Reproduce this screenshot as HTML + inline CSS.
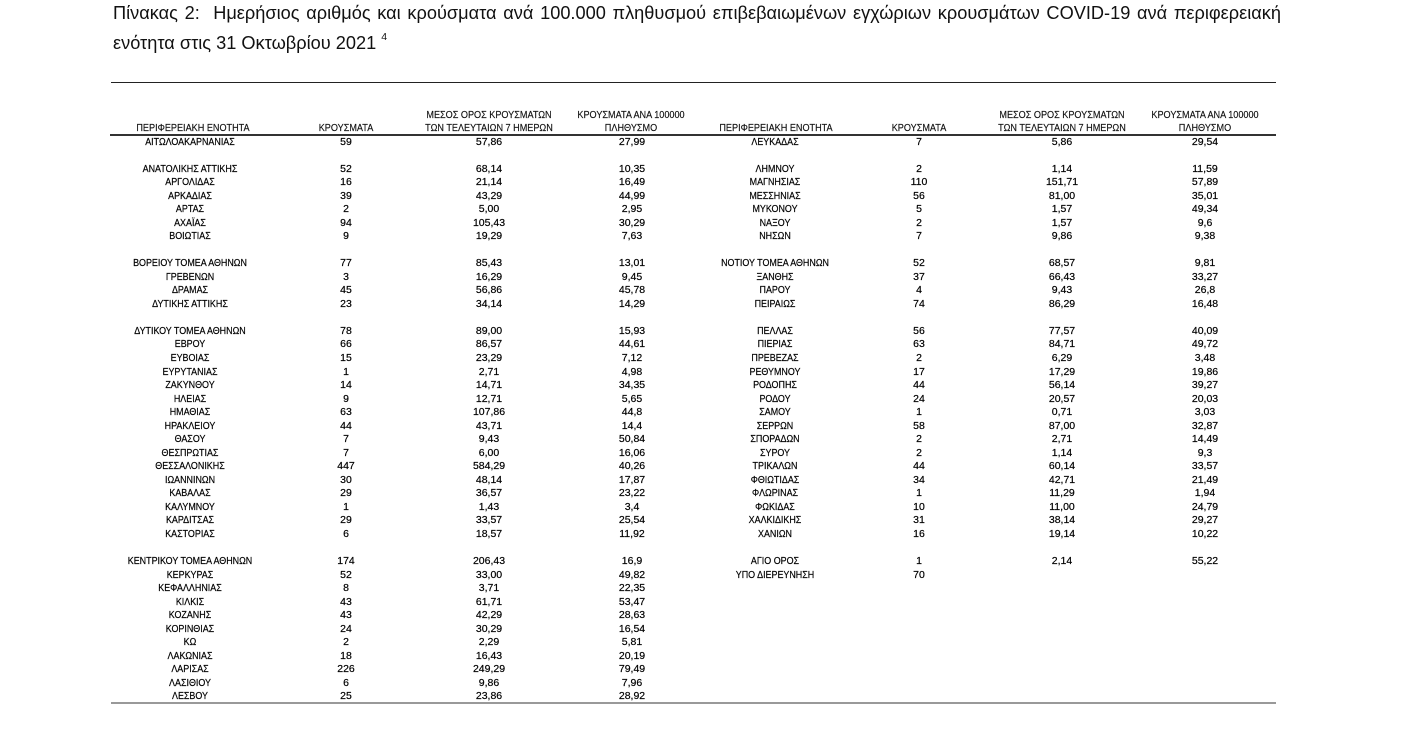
<!DOCTYPE html>
<html><head><meta charset="utf-8"><style>
html,body{margin:0;padding:0;background:#fff;}
body{width:1425px;height:750px;position:relative;overflow:hidden;font-family:"Liberation Sans","DejaVu Sans",sans-serif;color:#111;}
.title{position:absolute;left:113px;top:0;width:1168px;font-size:18.2px;line-height:26px;color:#111;}
.t1{text-align:justify;text-align-last:justify;}
.hr{position:absolute;}
.hd{position:absolute;width:220px;text-align:center;font-size:10px;line-height:13.5px;transform:scaleX(0.91);color:#111;-webkit-text-stroke:0.15px #111;}
#rows{position:absolute;left:0;top:135.5px;width:1425px;}
.r{position:relative;height:13.54px;}
.c{position:absolute;top:0;width:200px;text-align:center;font-size:10.5px;line-height:13.54px;color:#000;white-space:nowrap;-webkit-text-stroke:0.2px #000;}
.n{transform:scaleX(0.85);}
.a{left:90px}.b{left:246px}.d{left:389px}.e{left:532px}
.f{left:675px}.g{left:819px}.h{left:962px}.i{left:1105px}
</style></head><body>
<div class="title"><div class="t1">Πίνακας 2:&nbsp; Ημερήσιος αριθμός και κρούσματα ανά 100.000 πληθυσμού επιβεβαιωμένων εγχώριων κρουσμάτων COVID-19 ανά περιφερειακή</div><div>ενότητα στις 31 Οκτωβρίου 2021 <sup style="font-size:10.5px;position:relative;top:-2px">4</sup></div></div>
<div class="hr" style="left:111px;top:81.5px;width:1165px;height:1.5px;background:#222"></div>
<div class="hr" style="left:110px;top:134px;width:1166px;height:2px;background:#333"></div>
<div class="hr" style="left:111px;top:702px;width:1165px;height:2px;background:#999"></div>

<div class="hd" style="left:83px;top:122px">ΠΕΡΙΦΕΡΕΙΑΚΗ ΕΝΟΤΗΤΑ</div>
<div class="hd" style="left:236px;top:122px">ΚΡΟΥΣΜΑΤΑ</div>
<div class="hd" style="left:379px;top:108.5px">ΜΕΣΟΣ ΟΡΟΣ ΚΡΟΥΣΜΑΤΩΝ</div>
<div class="hd" style="left:379px;top:122px">ΤΩΝ ΤΕΛΕΥΤΑΙΩΝ 7 ΗΜΕΡΩΝ</div>
<div class="hd" style="left:521px;top:108.5px">ΚΡΟΥΣΜΑΤΑ ΑΝΑ 100000</div>
<div class="hd" style="left:521px;top:122px">ΠΛΗΘΥΣΜΟ</div>
<div class="hd" style="left:666px;top:122px">ΠΕΡΙΦΕΡΕΙΑΚΗ ΕΝΟΤΗΤΑ</div>
<div class="hd" style="left:809px;top:122px">ΚΡΟΥΣΜΑΤΑ</div>
<div class="hd" style="left:952px;top:108.5px">ΜΕΣΟΣ ΟΡΟΣ ΚΡΟΥΣΜΑΤΩΝ</div>
<div class="hd" style="left:952px;top:122px">ΤΩΝ ΤΕΛΕΥΤΑΙΩΝ 7 ΗΜΕΡΩΝ</div>
<div class="hd" style="left:1095px;top:108.5px">ΚΡΟΥΣΜΑΤΑ ΑΝΑ 100000</div>
<div class="hd" style="left:1095px;top:122px">ΠΛΗΘΥΣΜΟ</div>

<div id="rows">
<div class="r"><span class="c n a">ΑΙΤΩΛΟΑΚΑΡΝΑΝΙΑΣ</span><span class="c b">59</span><span class="c d">57,86</span><span class="c e">27,99</span><span class="c n f">ΛΕΥΚΑΔΑΣ</span><span class="c g">7</span><span class="c h">5,86</span><span class="c i">29,54</span></div>
<div class="r"></div>
<div class="r"><span class="c n a">ΑΝΑΤΟΛΙΚΗΣ ΑΤΤΙΚΗΣ</span><span class="c b">52</span><span class="c d">68,14</span><span class="c e">10,35</span><span class="c n f">ΛΗΜΝΟΥ</span><span class="c g">2</span><span class="c h">1,14</span><span class="c i">11,59</span></div>
<div class="r"><span class="c n a">ΑΡΓΟΛΙΔΑΣ</span><span class="c b">16</span><span class="c d">21,14</span><span class="c e">16,49</span><span class="c n f">ΜΑΓΝΗΣΙΑΣ</span><span class="c g">110</span><span class="c h">151,71</span><span class="c i">57,89</span></div>
<div class="r"><span class="c n a">ΑΡΚΑΔΙΑΣ</span><span class="c b">39</span><span class="c d">43,29</span><span class="c e">44,99</span><span class="c n f">ΜΕΣΣΗΝΙΑΣ</span><span class="c g">56</span><span class="c h">81,00</span><span class="c i">35,01</span></div>
<div class="r"><span class="c n a">ΑΡΤΑΣ</span><span class="c b">2</span><span class="c d">5,00</span><span class="c e">2,95</span><span class="c n f">ΜΥΚΟΝΟΥ</span><span class="c g">5</span><span class="c h">1,57</span><span class="c i">49,34</span></div>
<div class="r"><span class="c n a">ΑΧΑΪΑΣ</span><span class="c b">94</span><span class="c d">105,43</span><span class="c e">30,29</span><span class="c n f">ΝΑΞΟΥ</span><span class="c g">2</span><span class="c h">1,57</span><span class="c i">9,6</span></div>
<div class="r"><span class="c n a">ΒΟΙΩΤΙΑΣ</span><span class="c b">9</span><span class="c d">19,29</span><span class="c e">7,63</span><span class="c n f">ΝΗΣΩΝ</span><span class="c g">7</span><span class="c h">9,86</span><span class="c i">9,38</span></div>
<div class="r"></div>
<div class="r"><span class="c n a">ΒΟΡΕΙΟΥ ΤΟΜΕΑ ΑΘΗΝΩΝ</span><span class="c b">77</span><span class="c d">85,43</span><span class="c e">13,01</span><span class="c n f">ΝΟΤΙΟΥ ΤΟΜΕΑ ΑΘΗΝΩΝ</span><span class="c g">52</span><span class="c h">68,57</span><span class="c i">9,81</span></div>
<div class="r"><span class="c n a">ΓΡΕΒΕΝΩΝ</span><span class="c b">3</span><span class="c d">16,29</span><span class="c e">9,45</span><span class="c n f">ΞΑΝΘΗΣ</span><span class="c g">37</span><span class="c h">66,43</span><span class="c i">33,27</span></div>
<div class="r"><span class="c n a">ΔΡΑΜΑΣ</span><span class="c b">45</span><span class="c d">56,86</span><span class="c e">45,78</span><span class="c n f">ΠΑΡΟΥ</span><span class="c g">4</span><span class="c h">9,43</span><span class="c i">26,8</span></div>
<div class="r"><span class="c n a">ΔΥΤΙΚΗΣ ΑΤΤΙΚΗΣ</span><span class="c b">23</span><span class="c d">34,14</span><span class="c e">14,29</span><span class="c n f">ΠΕΙΡΑΙΩΣ</span><span class="c g">74</span><span class="c h">86,29</span><span class="c i">16,48</span></div>
<div class="r"></div>
<div class="r"><span class="c n a">ΔΥΤΙΚΟΥ ΤΟΜΕΑ ΑΘΗΝΩΝ</span><span class="c b">78</span><span class="c d">89,00</span><span class="c e">15,93</span><span class="c n f">ΠΕΛΛΑΣ</span><span class="c g">56</span><span class="c h">77,57</span><span class="c i">40,09</span></div>
<div class="r"><span class="c n a">ΕΒΡΟΥ</span><span class="c b">66</span><span class="c d">86,57</span><span class="c e">44,61</span><span class="c n f">ΠΙΕΡΙΑΣ</span><span class="c g">63</span><span class="c h">84,71</span><span class="c i">49,72</span></div>
<div class="r"><span class="c n a">ΕΥΒΟΙΑΣ</span><span class="c b">15</span><span class="c d">23,29</span><span class="c e">7,12</span><span class="c n f">ΠΡΕΒΕΖΑΣ</span><span class="c g">2</span><span class="c h">6,29</span><span class="c i">3,48</span></div>
<div class="r"><span class="c n a">ΕΥΡΥΤΑΝΙΑΣ</span><span class="c b">1</span><span class="c d">2,71</span><span class="c e">4,98</span><span class="c n f">ΡΕΘΥΜΝΟΥ</span><span class="c g">17</span><span class="c h">17,29</span><span class="c i">19,86</span></div>
<div class="r"><span class="c n a">ΖΑΚΥΝΘΟΥ</span><span class="c b">14</span><span class="c d">14,71</span><span class="c e">34,35</span><span class="c n f">ΡΟΔΟΠΗΣ</span><span class="c g">44</span><span class="c h">56,14</span><span class="c i">39,27</span></div>
<div class="r"><span class="c n a">ΗΛΕΙΑΣ</span><span class="c b">9</span><span class="c d">12,71</span><span class="c e">5,65</span><span class="c n f">ΡΟΔΟΥ</span><span class="c g">24</span><span class="c h">20,57</span><span class="c i">20,03</span></div>
<div class="r"><span class="c n a">ΗΜΑΘΙΑΣ</span><span class="c b">63</span><span class="c d">107,86</span><span class="c e">44,8</span><span class="c n f">ΣΑΜΟΥ</span><span class="c g">1</span><span class="c h">0,71</span><span class="c i">3,03</span></div>
<div class="r"><span class="c n a">ΗΡΑΚΛΕΙΟΥ</span><span class="c b">44</span><span class="c d">43,71</span><span class="c e">14,4</span><span class="c n f">ΣΕΡΡΩΝ</span><span class="c g">58</span><span class="c h">87,00</span><span class="c i">32,87</span></div>
<div class="r"><span class="c n a">ΘΑΣΟΥ</span><span class="c b">7</span><span class="c d">9,43</span><span class="c e">50,84</span><span class="c n f">ΣΠΟΡΑΔΩΝ</span><span class="c g">2</span><span class="c h">2,71</span><span class="c i">14,49</span></div>
<div class="r"><span class="c n a">ΘΕΣΠΡΩΤΙΑΣ</span><span class="c b">7</span><span class="c d">6,00</span><span class="c e">16,06</span><span class="c n f">ΣΥΡΟΥ</span><span class="c g">2</span><span class="c h">1,14</span><span class="c i">9,3</span></div>
<div class="r"><span class="c n a">ΘΕΣΣΑΛΟΝΙΚΗΣ</span><span class="c b">447</span><span class="c d">584,29</span><span class="c e">40,26</span><span class="c n f">ΤΡΙΚΑΛΩΝ</span><span class="c g">44</span><span class="c h">60,14</span><span class="c i">33,57</span></div>
<div class="r"><span class="c n a">ΙΩΑΝΝΙΝΩΝ</span><span class="c b">30</span><span class="c d">48,14</span><span class="c e">17,87</span><span class="c n f">ΦΘΙΩΤΙΔΑΣ</span><span class="c g">34</span><span class="c h">42,71</span><span class="c i">21,49</span></div>
<div class="r"><span class="c n a">ΚΑΒΑΛΑΣ</span><span class="c b">29</span><span class="c d">36,57</span><span class="c e">23,22</span><span class="c n f">ΦΛΩΡΙΝΑΣ</span><span class="c g">1</span><span class="c h">11,29</span><span class="c i">1,94</span></div>
<div class="r"><span class="c n a">ΚΑΛΥΜΝΟΥ</span><span class="c b">1</span><span class="c d">1,43</span><span class="c e">3,4</span><span class="c n f">ΦΩΚΙΔΑΣ</span><span class="c g">10</span><span class="c h">11,00</span><span class="c i">24,79</span></div>
<div class="r"><span class="c n a">ΚΑΡΔΙΤΣΑΣ</span><span class="c b">29</span><span class="c d">33,57</span><span class="c e">25,54</span><span class="c n f">ΧΑΛΚΙΔΙΚΗΣ</span><span class="c g">31</span><span class="c h">38,14</span><span class="c i">29,27</span></div>
<div class="r"><span class="c n a">ΚΑΣΤΟΡΙΑΣ</span><span class="c b">6</span><span class="c d">18,57</span><span class="c e">11,92</span><span class="c n f">ΧΑΝΙΩΝ</span><span class="c g">16</span><span class="c h">19,14</span><span class="c i">10,22</span></div>
<div class="r"></div>
<div class="r"><span class="c n a">ΚΕΝΤΡΙΚΟΥ ΤΟΜΕΑ ΑΘΗΝΩΝ</span><span class="c b">174</span><span class="c d">206,43</span><span class="c e">16,9</span><span class="c n f">ΑΓΙΟ ΟΡΟΣ</span><span class="c g">1</span><span class="c h">2,14</span><span class="c i">55,22</span></div>
<div class="r"><span class="c n a">ΚΕΡΚΥΡΑΣ</span><span class="c b">52</span><span class="c d">33,00</span><span class="c e">49,82</span><span class="c n f">ΥΠΟ ΔΙΕΡΕΥΝΗΣΗ</span><span class="c g">70</span></div>
<div class="r"><span class="c n a">ΚΕΦΑΛΛΗΝΙΑΣ</span><span class="c b">8</span><span class="c d">3,71</span><span class="c e">22,35</span></div>
<div class="r"><span class="c n a">ΚΙΛΚΙΣ</span><span class="c b">43</span><span class="c d">61,71</span><span class="c e">53,47</span></div>
<div class="r"><span class="c n a">ΚΟΖΑΝΗΣ</span><span class="c b">43</span><span class="c d">42,29</span><span class="c e">28,63</span></div>
<div class="r"><span class="c n a">ΚΟΡΙΝΘΙΑΣ</span><span class="c b">24</span><span class="c d">30,29</span><span class="c e">16,54</span></div>
<div class="r"><span class="c n a">ΚΩ</span><span class="c b">2</span><span class="c d">2,29</span><span class="c e">5,81</span></div>
<div class="r"><span class="c n a">ΛΑΚΩΝΙΑΣ</span><span class="c b">18</span><span class="c d">16,43</span><span class="c e">20,19</span></div>
<div class="r"><span class="c n a">ΛΑΡΙΣΑΣ</span><span class="c b">226</span><span class="c d">249,29</span><span class="c e">79,49</span></div>
<div class="r"><span class="c n a">ΛΑΣΙΘΙΟΥ</span><span class="c b">6</span><span class="c d">9,86</span><span class="c e">7,96</span></div>
<div class="r"><span class="c n a">ΛΕΣΒΟΥ</span><span class="c b">25</span><span class="c d">23,86</span><span class="c e">28,92</span></div>
</div>
</body></html>
